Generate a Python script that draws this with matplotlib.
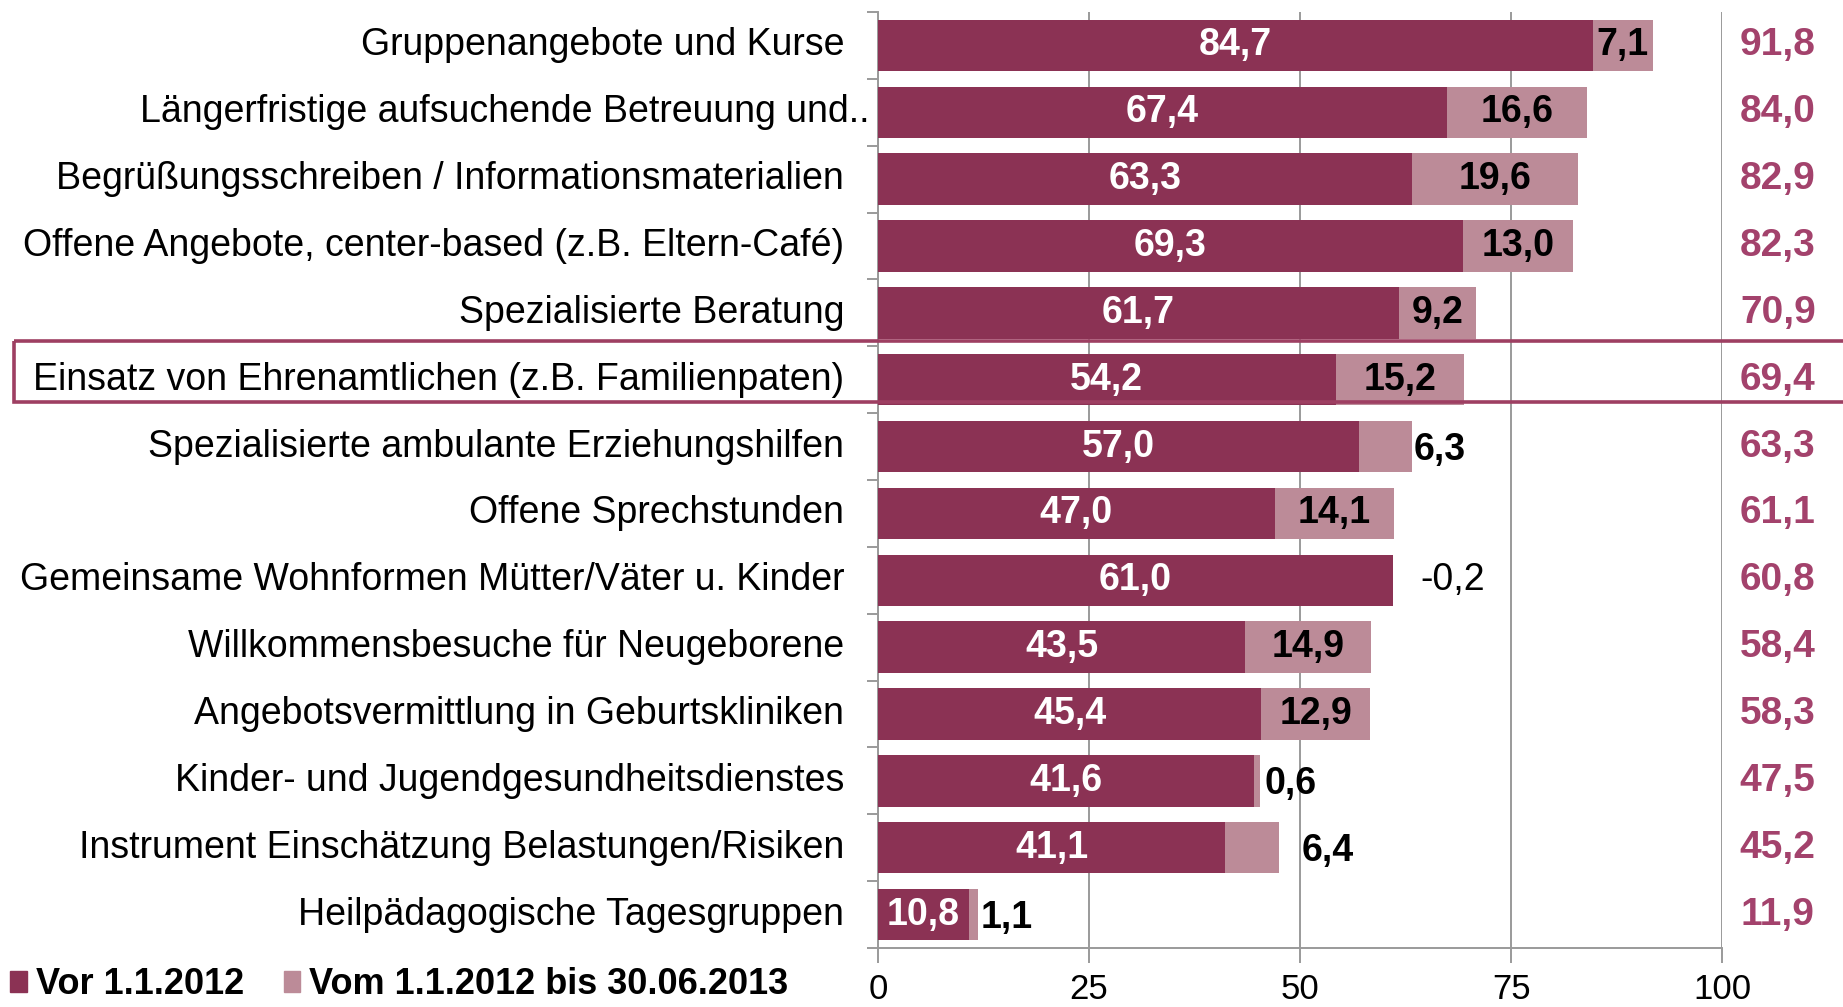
import matplotlib.pyplot as plt
from matplotlib.patches import Rectangle
from matplotlib.transforms import blended_transform_factory

plt.rcParams['font.family'] = ['Liberation Sans', 'DejaVu Sans']

# data
categories = [
    "Gruppenangebote und Kurse",
    "Längerfristige aufsuchende Betreuung und..",
    "Begrüßungsschreiben / Informationsmaterialien",
    "Offene Angebote, center-based (z.B. Eltern-Café)",
    "Spezialisierte Beratung",
    "Einsatz von Ehrenamtlichen (z.B. Familienpaten)",
    "Spezialisierte ambulante Erziehungshilfen",
    "Offene Sprechstunden",
    "Gemeinsame Wohnformen Mütter/Väter u. Kinder",
    "Willkommensbesuche für Neugeborene",
    "Angebotsvermittlung in Geburtskliniken",
    "Kinder- und Jugendgesundheitsdienstes",
    "Instrument Einschätzung Belastungen/Risiken",
    "Heilpädagogische Tagesgruppen",
]
vor_2012 = [84.7, 67.4, 63.3, 69.3, 61.7, 54.2, 57.0, 47.0, 61.0, 43.5, 45.4, 44.6, 41.1, 10.8]
vor_labels = ["84,7", "67,4", "63,3", "69,3", "61,7", "54,2", "57,0", "47,0", "61,0",
              "43,5", "45,4", "41,6", "41,1", "10,8"]
seit_2012 = [7.1, 16.6, 19.6, 13.0, 9.2, 15.2, 6.3, 14.1, -0.2, 14.9, 12.9, 0.6, 6.4, 1.1]
totals = ["91,8", "84,0", "82,9", "82,3", "70,9", "69,4", "63,3", "61,1", "60,8",
          "58,4", "58,3", "47,5", "45,2", "11,9"]

# label offsets for the small segments (placed right of the bar)
outside_offset = {6: 0.2, 8: 3.2, 11: 0.6, 12: 2.7, 13: 0.3}

dark = '#8B3254'
light = '#BC8B98'
total_col = '#A3426C'
grid_col = '#9A9A9A'

fig = plt.figure(figsize=(18.43, 10.07), dpi=100)
ax = fig.add_axes([0.4764, 0.0586, 0.458, 0.9295])

y = list(range(len(categories)))
light_w = [max(v, 0) for v in seit_2012]
ax.barh(y, vor_2012, height=0.77, color=dark, zorder=3)
ax.barh(y, light_w, left=vor_2012, height=0.77, color=light, zorder=3)

ax.set_xlim(0, 100)
ax.set_ylim(len(categories) - 0.5, -0.5)
ax.set_xticks([0, 25, 50, 75, 100])
ax.set_xticklabels(['0', '25', '50', '75', '100'], fontsize=25)
ax.grid(axis='x', color=grid_col, linewidth=1.4, zorder=0)
ax.tick_params(axis='x', length=11, width=1.4, color=grid_col, pad=7)

ax.set_yticks([i - 0.5 for i in range(len(categories) + 1)])
ax.set_yticklabels([])
ax.tick_params(axis='y', length=8, width=1.4, color=grid_col)

for s in ['top', 'right']:
    ax.spines[s].set_visible(False)
for s in ['left', 'bottom']:
    ax.spines[s].set_color(grid_col)
    ax.spines[s].set_linewidth(1.4)

tr = blended_transform_factory(ax.transAxes, ax.transData)
for i, cat in enumerate(categories):
    xpos = -0.040
    if i == 1:
        xpos = -0.010
    ax.text(xpos, i, cat, transform=tr, ha='right', va='center', fontsize=27)

    # dark segment value
    ax.text(vor_2012[i] / 2, i, vor_labels[i], ha='center', va='center',
            color='white', fontsize=27, fontweight='bold', zorder=4)

    # light segment value
    lab = f"{seit_2012[i]:.1f}".replace('.', ',')
    if i in outside_offset:
        end = vor_2012[i] + light_w[i]
        if seit_2012[i] < 0:
            ax.text(end + outside_offset[i], i, lab, ha='left', va='center',
                    fontsize=27, color='black', zorder=4)
        else:
            ax.text(end + outside_offset[i], i + 0.05, lab, ha='left', va='center',
                    fontsize=27, fontweight='bold', color='black', zorder=4)
    else:
        ax.text(vor_2012[i] + seit_2012[i] / 2, i, lab, ha='center', va='center',
                fontsize=27, fontweight='bold', color='black', zorder=4)

    ax.text(1.066, i, totals[i], transform=tr, ha='center', va='center',
            fontsize=28, fontweight='bold', color=total_col)

# highlight box around "Einsatz von Ehrenamtlichen"
hl = blended_transform_factory(fig.transFigure, ax.transData)
ax.add_patch(Rectangle((0.0076, 4.42), 1.1, 0.91, transform=hl, fill=False,
                       edgecolor='#9E3F62', linewidth=2.6, clip_on=False, zorder=5))

# legend
handles = [Rectangle((0, 0), 1, 1, color=dark), Rectangle((0, 0), 1, 1, color=light)]
leg = fig.legend(handles, ['Vor 1.1.2012', 'Vom 1.1.2012 bis 30.06.2013'],
                 loc='center left', bbox_to_anchor=(-0.012, 0.022), ncol=2, frameon=False,
                 handlelength=0.45, handleheight=0.55, handletextpad=0.25,
                 columnspacing=1.1, prop={'size': 26, 'weight': 'bold'})

fig.savefig('out.png', dpi=100)
